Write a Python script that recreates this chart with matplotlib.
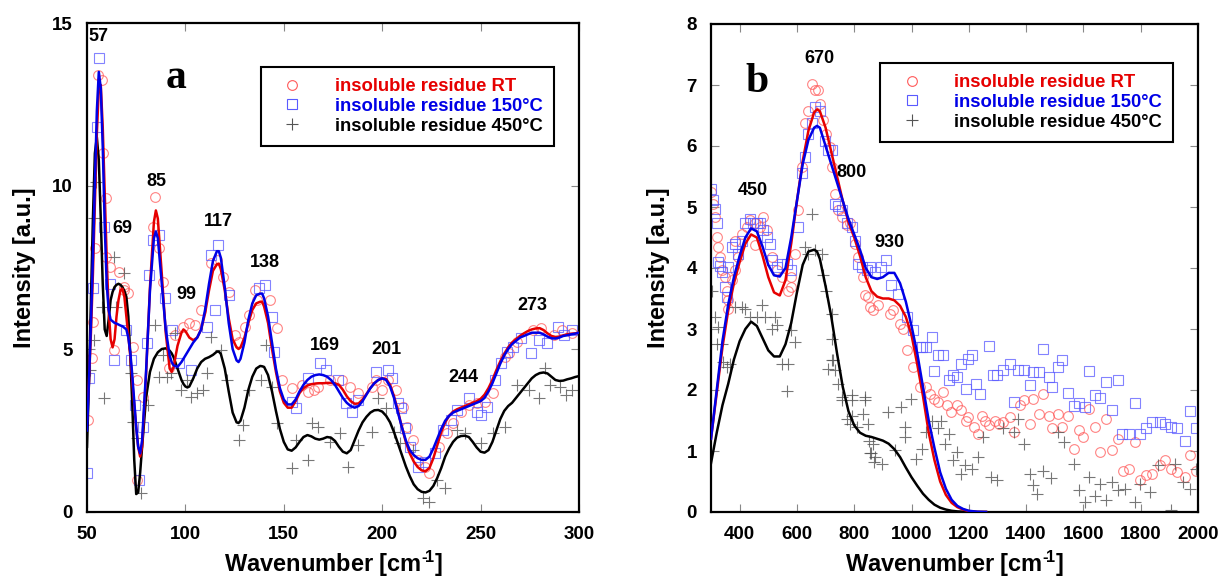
import matplotlib
matplotlib.use("Agg")
import matplotlib.pyplot as plt
from matplotlib.lines import Line2D

plt.rcParams['font.family'] = ['Liberation Sans', 'DejaVu Sans']
plt.rcParams['font.weight'] = 'bold'
plt.rcParams['mathtext.fontset'] = 'custom'
plt.rcParams['mathtext.rm'] = 'Liberation Sans:bold'
plt.rcParams['mathtext.bf'] = 'Liberation Sans:bold'
plt.rcParams['mathtext.it'] = 'Liberation Sans:bold'

# ---------------- Panel a: fitted curves ----------------
a_x = [50, 51, 52, 53, 54, 55, 56, 57, 58, 59, 60, 61, 62, 63, 64, 65, 66, 67, 68, 69, 70, 71, 72, 73, 74, 75,
       76, 77, 78, 80, 82, 84, 85, 86, 88, 90, 92, 93, 94, 96, 98, 99, 100, 101, 102, 104, 106, 108, 110, 112,
       114, 116, 117, 118, 120, 122, 124, 126, 127, 128, 130, 132, 134, 136, 138, 139, 140, 142, 144, 146,
       148, 150, 152, 154, 156, 158, 160, 162, 164, 166, 168, 170, 172, 174, 176, 178, 180, 182, 184, 186,
       188, 190, 192, 194, 196, 198, 200, 202, 204, 206, 208, 210, 212, 214, 216, 218, 220, 222, 224, 226,
       228, 230, 232, 234, 236, 238, 240, 242, 244, 246, 248, 250, 252, 254, 256, 258, 260, 262, 264, 266,
       268, 270, 272, 274, 276, 278, 280, 282, 284, 286, 288, 290, 292, 294, 296, 298, 300]
a_rt_fit = [2.8, 4.0, 5.5, 7.3, 9.4, 11.6, 13.0, 13.1, 11.8, 9.8, 7.8, 6.2, 5.3, 5.05, 5.3, 6.0, 6.5, 6.8, 6.85,
            6.6, 6.0, 5.4, 4.8, 4.0, 3.3, 2.6, 2.0, 1.7, 2.0, 4.2, 6.9, 8.9, 9.25, 9.0, 7.3, 5.5, 4.4, 4.3, 4.45,
            5.1, 5.5, 5.6, 5.55, 5.45, 5.35, 5.27, 5.35, 5.6, 6.1, 6.8, 7.4, 7.6, 7.62, 7.45, 6.8, 5.95, 5.3,
            5.05, 5.0, 5.05, 5.35, 5.8, 6.2, 6.4, 6.45, 6.45, 6.3, 5.8, 5.0, 4.3, 3.7, 3.35, 3.2, 3.2, 3.4, 3.65,
            3.8, 3.88, 3.92, 3.94, 3.95, 3.95, 3.96, 3.96, 3.95, 3.9, 3.75, 3.55, 3.4, 3.32, 3.33, 3.45, 3.62,
            3.8, 3.95, 4.05, 4.1, 4.08, 3.9, 3.55, 3.1, 2.6, 2.15, 1.8, 1.55, 1.38, 1.28, 1.25, 1.35, 1.65, 2.05,
            2.45, 2.75, 2.95, 3.08, 3.15, 3.2, 3.25, 3.3, 3.35, 3.4, 3.47, 3.6, 3.8, 4.05, 4.35, 4.62, 4.85, 5.05,
            5.2, 5.3, 5.4, 5.48, 5.55, 5.6, 5.63, 5.64, 5.58, 5.48, 5.4, 5.37, 5.38, 5.42, 5.45, 5.47, 5.48, 5.5]
a_150_fit = [2.5, 4.0, 5.8, 7.8, 10.0, 12.3, 13.5, 13.0, 11.2, 8.8, 7.0, 6.2, 5.9, 5.85, 5.8, 5.78, 5.75, 5.72,
             5.7, 5.65, 5.6, 5.35, 4.9, 4.2, 3.4, 2.6, 2.0, 1.8, 2.2, 4.3, 6.8, 8.4, 8.6, 8.4, 7.0, 5.6, 4.8, 4.6,
             4.5, 4.45, 4.6, 4.7, 4.8, 4.9, 5.0, 5.2, 5.35, 5.6, 6.2, 7.0, 7.7, 8.0, 8.0, 7.8, 6.9, 5.8, 5.0, 4.65,
             4.6, 4.7, 5.2, 5.9, 6.4, 6.65, 6.7, 6.7, 6.55, 6.0, 5.2, 4.4, 3.8, 3.45, 3.3, 3.3, 3.45, 3.7, 3.9,
             4.05, 4.15, 4.2, 4.22, 4.2, 4.15, 4.05, 3.9, 3.7, 3.5, 3.35, 3.25, 3.2, 3.25, 3.4, 3.6, 3.8, 3.95,
             4.05, 4.1, 4.05, 3.85, 3.5, 3.05, 2.6, 2.2, 1.9, 1.75, 1.65, 1.6, 1.6, 1.7, 1.95, 2.25, 2.55, 2.8,
             2.95, 3.05, 3.1, 3.15, 3.2, 3.25, 3.3, 3.35, 3.4, 3.5, 3.7, 3.95, 4.25, 4.55, 4.8, 5.0, 5.15, 5.25,
             5.35, 5.4, 5.45, 5.5, 5.5, 5.5, 5.45, 5.38, 5.33, 5.32, 5.35, 5.4, 5.42, 5.45, 5.47, 5.5]
a_450_fit = [2.0, 4.0, 6.5, 9.0, 11.0, 11.5, 10.8, 9.0, 7.0, 5.6, 5.4, 5.9, 6.5, 6.75, 6.9, 6.97, 7.0, 6.97,
             6.9, 6.78, 6.6, 6.0, 4.8, 3.3, 1.6, 0.55, 0.6, 1.2, 2.0, 3.5, 4.3, 4.7, 4.8, 4.9, 5.0, 5.02, 4.95,
             4.87, 4.75, 4.4, 4.05, 3.93, 3.85, 3.82, 3.85, 4.1, 4.4, 4.6, 4.7, 4.75, 4.82, 4.92, 4.92, 4.85, 4.4,
             3.7, 3.05, 2.75, 2.73, 2.8, 3.2, 3.75, 4.15, 4.4, 4.48, 4.47, 4.45, 4.2, 3.7, 3.1, 2.55, 2.15, 1.92,
             1.88, 1.98, 2.15, 2.3, 2.36, 2.32, 2.25, 2.22, 2.25, 2.3, 2.28, 2.18, 2.0, 1.85, 1.8, 1.9, 2.2, 2.5,
             2.75, 2.92, 3.05, 3.12, 3.13, 3.08, 2.95, 2.75, 2.45, 2.1, 1.75, 1.4, 1.1, 0.85, 0.7, 0.62, 0.6, 0.65,
             0.8, 1.05, 1.35, 1.7, 1.95, 2.15, 2.28, 2.33, 2.34, 2.3, 2.15, 1.98, 1.85, 1.82, 1.9, 2.15, 2.5, 2.85,
             3.1, 3.25, 3.35, 3.5, 3.65, 3.8, 3.95, 4.1, 4.2, 4.26, 4.28, 4.25, 4.15, 4.05, 4.02, 4.03, 4.07, 4.1,
             4.14, 4.17]

# ---------------- Panel a: measured points ----------------
a_rt_px = [55.4, 57.4, 58.1, 59.5, 54.0, 59.5, 61.5, 66.5, 68.6, 84.7, 83.7, 86.7, 113, 116, 119.1, 135.2,
           50.4, 52.4, 52.8, 63.5, 68.6, 70.6, 73.6, 75.6, 75.6, 78.7, 88.7, 91.8, 94.8, 98.8, 101.9, 104.9,
           108.0, 122.1, 125.1, 127.1, 130.1, 132.1, 136.2, 143.2, 146.3, 149.3, 154.3, 159.4, 162.4, 165.4,
           167.5, 173.5, 179.6, 183.6, 187.6, 194.7, 196.7, 199.7, 202.8, 206.8, 210.8, 212.8, 215.9, 218,
           222, 224, 229, 233, 236, 240, 244.2, 248.2, 252.2, 256.2, 262.3, 264.3, 268.4, 276.4, 280.5, 287.5,
           291.6, 296.6]
a_rt_py = [13.4, 13.25, 11.0, 9.62, 8.09, 7.83, 7.53, 7.37, 6.81, 9.67, 8.75, 8.09, 7.63, 7.73, 7.22, 6.81,
           2.82, 4.71, 5.84, 4.97, 6.91, 6.71, 5.07, 4.05, 0.98, 3.54, 7.07, 4.41, 5.43, 5.69, 5.79, 5.74,
           6.2, 6.76, 5.43, 5.22, 5.69, 6.04, 6.5, 6.5, 5.63, 4.05, 3.79, 3.9, 3.69, 3.74,
           3.84, 4.05, 4.05, 3.84, 3.64, 3.84, 4.05, 3.74, 4.05, 3.74, 3.23, 2.62, 2.21, 1.6,
           1.39, 1.19, 2.0, 2.41, 2.72, 3.08, 3.28, 3.33, 3.38, 3.64, 4.76, 4.87, 5.22, 5.58, 5.63, 5.43,
           5.58, 5.48]
a_150_px = [56.1, 55.0, 58.5, 81.7, 83.7, 86.7, 113.0, 116.6, 137.2, 140.2, 52.8, 61.5,
            50, 50.8, 63.5, 69.6, 72.6, 74.6, 78.7, 76.6, 80.7, 89.8, 93.2, 96.8, 102.9, 111.0, 115.0, 122.1,
            145.2, 144.2, 154.3, 156.3, 162.4, 168.5, 171.5, 177.5, 181.6, 184.6, 187.6, 196.7, 202.8, 204.8,
            207.8, 209.8, 211.8, 213.9, 218, 222, 227, 231, 235.1, 238.1, 244.2, 248.2, 250.2, 253.2, 257.2,
            260.3, 263.3, 266.3, 270.4, 275.4, 279.5, 283.5, 289.5, 292.6, 296.6]
a_150_py = [13.92, 11.82, 8.75, 7.27, 8.34, 8.5, 7.88, 8.19, 6.86, 6.96, 6.86, 7.0,
            1.19, 4.1, 4.66, 5.58, 4.66, 3.28, 2.62, 0.98, 5.17, 6.55, 5.58, 4.56, 4.36, 5.69, 6.2, 6.66,
            4.92, 5.99, 3.38, 3.18, 4.1, 4.56, 4.36, 4.05, 3.33, 3.08, 3.44, 4.3, 4.36, 4.1,
            3.33, 3.18, 2.57, 2.0, 1.39, 1.54, 1.8, 2.52, 2.82, 3.13, 3.49, 3.08, 2.98, 3.23, 4.05,
            4.56, 4.92, 5.07, 5.33, 4.87, 5.28, 5.17, 5.69, 5.43, 5.58]
a_450_px = [54.4, 53.4, 63.5, 69, 51.4, 53.4, 58.5, 57.5, 64.5, 72.6, 73.6, 75.6, 77.6, 81.1, 84.7, 86.7,
            88.7, 90.8, 92.8, 94.8, 97.8, 100.9, 102.9, 105.9, 108.9, 111, 113, 118, 121.1, 127.1, 129.2,
            132.2, 138.2, 141.2, 144.2, 146.3, 154.3, 156.3, 162.4, 164.4, 167.5, 173.5, 178.5, 182.6, 187.6,
            194.7, 197.7, 201.8, 205.8, 208.8, 215.9, 220.9, 224, 228, 232, 238, 242, 250.2, 256.2, 262.3,
            268.4, 274.4, 279.5, 282.5, 285.5, 290.5, 293.6, 296.6]
a_450_py = [10.13, 9.01, 7.83, 7.32, 4.36, 5.28, 3.49, 6.3, 6.3, 4.25, 2.77, 2.26, 0.57, 3.28, 5.74, 4.15,
            4.82, 4.15, 4.25, 5.48, 3.74, 4.05, 3.54, 3.64, 3.74, 4.25, 5.38, 4.97, 4.05, 2.21, 2.67,
            3.74, 4.05, 5.12, 3.84, 2.72, 1.34, 2.21, 1.6, 2.72, 2.62, 2.16, 2.41, 1.39, 2.06,
            2.46, 3.49, 3.18, 2.46, 2.11, 1.9, 0.42, 0.32, 0.98, 0.73, 2.52, 2.41, 2.11, 2.41, 2.62,
            3.9, 3.74, 3.49, 4.41, 3.9, 3.84, 3.59, 3.74]
a_peak_labels = ['57', '69', '85', '99', '117', '138', '169', '201', '244', '273']
a_peak_x = [56, 68, 85, 100.5, 116.6, 140.5, 171, 202, 241, 276.5]
a_peak_y = [14.6, 8.7, 10.15, 6.66, 8.9, 7.66, 5.12, 4.97, 4.12, 6.32]

# ---------------- Panel b: fitted curves ----------------
b_x = [300, 320, 340, 360, 380, 400, 420, 440, 460, 480, 500, 520, 540, 560, 580, 600, 620, 640, 660, 670,
       680, 700, 720, 740, 760, 780, 800, 820, 840, 860, 880, 900, 920, 940, 960, 980, 1000, 1020, 1040,
       1060, 1080, 1100, 1120, 1140, 1160, 1180, 1200, 1230, 1260]
b_rt_fit = [1.2, 1.95, 2.7, 3.3, 3.75, 4.1, 4.4, 4.55, 4.5, 4.2, 3.85, 3.6, 3.55, 3.8, 4.4, 5.1, 5.75, 6.25,
            6.55, 6.6, 6.57, 6.3, 5.9, 5.5, 5.1, 4.75, 4.5, 4.2, 3.85, 3.62, 3.53, 3.5, 3.5, 3.47, 3.38, 3.2,
            2.9, 2.42, 1.9, 1.3, 0.85, 0.5, 0.28, 0.15, 0.08, 0.04, 0.015, 0.0, 0.0]
b_150_fit = [1.2, 2.0, 2.8, 3.4, 3.85, 4.2, 4.5, 4.65, 4.6, 4.35, 4.05, 3.88, 3.86, 4.0, 4.5, 5.1, 5.7, 6.1,
             6.3, 6.33, 6.3, 6.0, 5.7, 5.4, 5.1, 4.8, 4.55, 4.3, 4.0, 3.85, 3.82, 3.85, 3.92, 3.92, 3.75, 3.45,
             3.05, 2.6, 2.05, 1.5, 1.05, 0.65, 0.38, 0.2, 0.1, 0.05, 0.02, 0.005, 0.0]
b_450_fit = [0.8, 1.3, 1.75, 2.1, 2.5, 2.8, 3.0, 3.12, 3.05, 2.85, 2.65, 2.55, 2.55, 2.75, 3.1, 3.6, 4.05,
             4.27, 4.3, 4.27, 4.15, 3.7, 3.2, 2.6, 2.05, 1.65, 1.42, 1.3, 1.25, 1.23, 1.2, 1.17, 1.12, 1.03,
             0.9, 0.73, 0.57, 0.43, 0.3, 0.2, 0.12, 0.07, 0.04, 0.02, 0.01, 0.005, 0.0, 0.0, 0.0]

# ---------------- Panel b: measured points ----------------
b_rt_px = [300, 308, 314, 320, 326, 331, 337, 349, 355, 360, 360, 372, 384, 395, 384, 407, 424, 436, 453, 471,
           483, 494, 453, 512, 529, 547, 570, 581, 581, 593, 605, 616, 628, 640, 651, 663, 674, 680, 692, 703,
           715, 721, 733, 744, 756, 773, 785, 802, 814, 831, 849, 866,
           836, 854, 883, 924, 936, 959, 971, 983, 1006, 1029,
           1051, 1064, 1077, 1091, 1111, 1124, 1138, 1158, 1171, 1191, 1198, 1218, 1231, 1245, 1258, 1271,
           1291, 1305, 1318, 1345, 1358, 1378, 1392, 1412, 1425, 1445, 1459, 1479, 1492, 1512, 1526, 1546,
           1566, 1586, 1599, 1619, 1639, 1659, 1679, 1699, 1719, 1739, 1759, 1779, 1799, 1819, 1839, 1866,
           1886, 1906, 1926, 1953, 1973, 1993]
b_rt_py = [5.25, 5.05, 4.84, 4.51, 4.34, 4.18, 3.96, 3.85, 3.63, 3.47, 3.33, 3.8, 3.96, 4.18, 4.45, 4.56,
           4.67, 4.78, 4.73, 4.67, 4.84, 4.62, 4.37, 4.18, 3.96, 3.85, 3.63, 3.69, 3.85, 4.23, 4.95, 5.66,
           6.37, 6.58, 7.02, 6.91, 6.91, 6.69, 6.42, 6.2, 5.98, 5.66, 5.22, 4.95, 4.84, 4.7, 4.73, 4.4, 4.18,
           3.85, 3.52, 3.31,
           3.55, 3.36, 3.39, 3.25, 3.31, 3.09, 3.0, 2.65, 2.38, 2.05,
           2.05, 1.94, 1.86, 1.8, 1.97, 1.75, 1.64, 1.75, 1.67, 1.5, 1.56, 1.39, 1.28, 1.58, 1.5, 1.42,
           1.5, 1.45, 1.48, 1.56, 1.31, 1.75, 1.83, 1.45, 1.86, 1.61, 1.94, 1.58, 1.37, 1.61, 1.39, 1.58,
           1.04, 1.34, 1.23, 1.69, 1.39, 0.98, 1.53, 1.01, 1.2, 0.68, 0.71, 1.15, 0.53, 0.6, 0.63, 0.77,
           0.85, 0.71, 0.66, 0.57, 0.93, 0.68]
b_150_px = [300, 308, 314, 320, 326, 331, 337, 349, 355, 360, 372, 384, 395, 407, 419, 436, 448, 460, 471, 483,
            494, 506, 512, 529, 547, 564, 581, 605, 616, 628, 640, 651, 663, 680, 698, 709, 721, 733, 744, 756,
            773, 791, 802, 814, 826, 843,
            854, 871, 895, 912, 930, 954, 983, 1006, 1029,
            1037, 1051, 1071, 1077, 1091, 1111, 1131, 1144, 1158, 1171, 1191, 1198, 1211, 1225, 1238, 1271,
            1285, 1298, 1318, 1345, 1358, 1372, 1392, 1412, 1425, 1445, 1459, 1479, 1492, 1512, 1526, 1546,
            1566, 1586, 1606, 1619, 1639, 1659, 1679, 1699, 1719, 1733, 1759, 1779, 1799, 1819, 1839, 1866,
            1886, 1906, 1926, 1953, 1973, 1993]
b_150_py = [5.3, 5.11, 4.97, 4.73, 4.1, 4.04, 3.93, 3.69, 3.52, 4.02, 4.34, 4.4, 4.23, 4.45, 4.73, 4.81,
            4.73, 4.73, 4.73, 4.62, 4.51, 4.4, 4.13, 4.02, 4.07, 4.07, 3.96, 4.67, 5.55, 5.82, 6.2, 6.37,
            6.64, 6.58, 6.09, 5.93, 5.93, 5.05, 5.02, 4.95, 4.73, 4.67, 4.45, 4.07, 4.02, 3.96,
            4.02, 3.94, 4.02, 4.13, 3.72, 3.58, 3.2, 2.98, 2.71,
            2.7, 2.7, 2.87, 2.31, 2.57, 2.57, 2.16, 2.24, 2.21, 2.43, 2.02, 2.51, 2.57, 2.1, 1.94, 2.72,
            2.24, 2.24, 2.32, 2.43, 1.8, 2.32, 2.32, 2.08, 2.3, 2.3, 2.68, 2.21, 2.05, 2.37, 2.49, 1.95,
            1.73, 1.79, 1.72, 2.31, 1.91, 1.87, 2.13, 1.67, 2.16, 1.28, 1.28, 1.78, 1.28, 1.37, 1.48, 1.48,
            1.45, 1.39, 1.37, 1.17, 1.66, 1.37]
b_450_px = [302, 314, 326, 320, 337, 343, 355, 366, 384, 407, 419, 477, 436, 460, 488, 523, 530, 512, 581, 593,
            570, 547, 564, 651, 628, 663, 686, 640, 692, 703, 721, 721, 727, 733, 756, 791, 837, 791, 773, 849,
            855, 872,
            710, 723, 743, 757, 791, 837, 831, 784, 811, 851, 864, 857, 870, 897, 917, 944, 964, 997, 977, 977,
            1017, 1037, 1051, 1071, 1091, 1104, 1118, 1131, 1144, 1158, 1171, 1185, 1211, 1231, 1251, 1278,
            1298, 1318, 1358, 1372, 1392, 1412, 1425, 1439, 1459, 1486, 1512, 1532, 1566, 1586, 1606, 1619,
            1639, 1659, 1679, 1699, 1719, 1746, 1779, 1799, 1833, 1859, 1906, 1919, 1946, 1973, 1993]
b_450_py = [3.63, 3.2, 3.03, 2.76, 2.76, 2.46, 2.38, 2.43, 3.36, 3.36, 3.33, 3.39, 3.2, 3.2, 3.2, 3.2, 3.06,
            3.0, 2.98, 2.79, 2.43, 2.43, 1.99, 4.89, 4.34, 4.29, 4.23, 4.23, 3.88, 3.63, 3.25, 2.84, 2.49,
            2.32, 1.83, 1.83, 1.83, 1.58, 1.53, 1.45, 0.96, 0.9,
            2.35, 2.49, 2.1, 1.89, 1.91, 1.89, 1.61, 1.45, 1.39, 1.17, 1.12, 0.96, 0.82, 0.79, 1.64, 1.01,
            1.72, 1.86, 1.39, 1.23, 0.87, 1.04, 1.31, 1.5, 1.37, 1.5, 1.12, 1.28, 0.85, 0.98, 0.63, 0.77,
            0.71, 0.9, 1.23, 0.57, 0.52, 1.37, 1.31, 1.53, 1.12, 0.63, 0.44, 0.3, 0.68, 0.55, 1.31, 1.15,
            0.79, 0.36, 0.16, 0.57, 0.27, 0.46, 0.19, 0.49, 0.36, 0.38, 0.16, 0.46, 0.33, 0.77, 0.03, 0.79,
            0.49, 0.38, 0.71]
b_peak_labels = ['450', '670', '800', '930']
b_peak_x = [446, 679, 790, 924]
b_peak_y = [5.27, 7.43, 5.57, 4.41]

series_labels = ['insoluble residue RT', 'insoluble residue 150°C', 'insoluble residue 450°C']

# ---------------- styling ----------------
RED = '#e60000'
BLUE = '#0000e6'
BLACK = '#000000'
RED_PT = '#ff5a5a'
BLUE_PT = '#5a5aff'
BLACK_PT = '#555555'

fig = plt.figure(figsize=(12.2, 5.84), dpi=100)
ax_a = fig.add_axes([87 / 1220, 1 - 512 / 584, (579 - 87) / 1220, (512 - 23) / 584])
ax_b = fig.add_axes([711 / 1220, 1 - 512 / 584, (1198 - 711) / 1220, (512 - 24) / 584])


def draw_points(ax, xs, ys, kind):
    if kind == 'rt':
        ax.plot(xs, ys, ls='none', marker='o', ms=7, mfc='none', mec=RED_PT, mew=0.8, alpha=0.75, zorder=2)
    elif kind == '150':
        ax.plot(xs, ys, ls='none', marker='s', ms=7, mfc='none', mec=BLUE_PT, mew=0.8, alpha=0.75, zorder=2)
    else:
        ax.plot(xs, ys, ls='none', marker='+', ms=8, mec=BLACK_PT, mew=0.8, alpha=0.8, zorder=2)


def style_axes(ax):
    for s in ax.spines.values():
        s.set_linewidth(1.6)
        s.set_color('black')
    ax.tick_params(direction='in', which='both', top=True, right=True, length=6, width=0.8,
                   color='#888888', labelsize=13.5)
    ax.tick_params(axis='y', pad=10)
    ax.tick_params(axis='x', pad=10)
    for lab in ax.get_xticklabels() + ax.get_yticklabels():
        lab.set_fontweight('bold')
    ax.set_ylabel('Intensity [a.u.]', fontsize=17, fontweight='bold', labelpad=12)
    ax.set_xlabel('Wavenumber [cm$^{\u2010\\!1}$]', fontsize=17, fontweight='bold', labelpad=4)


def add_legend(ax, anchor):
    handles = [Line2D([], [], ls='none', marker='o', ms=7, mfc='none', mec=RED_PT, mew=0.8),
               Line2D([], [], ls='none', marker='s', ms=7, mfc='none', mec=BLUE_PT, mew=0.8),
               Line2D([], [], ls='none', marker='+', ms=8, mec=BLACK_PT, mew=0.8)]
    leg = ax.legend(handles, series_labels, loc='upper left', bbox_to_anchor=anchor,
                    prop={'family': 'Liberation Sans', 'weight': 'bold', 'size': 13.3},
                    frameon=True, fancybox=False, edgecolor='black', framealpha=1,
                    handlelength=2.2, handletextpad=1.2, borderpad=0.6, labelspacing=0.15,
                    borderaxespad=0)
    leg.get_frame().set_linewidth(1.5)
    for t, c in zip(leg.get_texts(), [RED, BLUE, BLACK]):
        t.set_color(c)


# ---- panel a ----
draw_points(ax_a, a_rt_px, a_rt_py, 'rt')
draw_points(ax_a, a_150_px, a_150_py, '150')
draw_points(ax_a, a_450_px, a_450_py, '450')
ax_a.plot(a_x, a_450_fit, color=BLACK, lw=1.8, zorder=3)
ax_a.plot(a_x, a_rt_fit, color=RED, lw=1.8, zorder=4)
ax_a.plot(a_x, a_150_fit, color=BLUE, lw=1.8, zorder=5)
ax_a.set_xlim(50, 300)
ax_a.set_ylim(0, 15)
ax_a.set_xticks([50, 100, 150, 200, 250, 300])
ax_a.set_yticks([0, 5, 10, 15])
style_axes(ax_a)
for lab, x, y in zip(a_peak_labels, a_peak_x, a_peak_y):
    ax_a.text(x, y, lab, ha='center', va='center', fontsize=13, fontweight='bold', zorder=6)
ax_a.text(95.5, 13.3, 'a', ha='center', va='center', fontsize=30, fontweight='bold',
          family='Liberation Serif', zorder=6)
add_legend(ax_a, (0.353, 0.91))

# ---- panel b ----
draw_points(ax_b, b_rt_px, b_rt_py, 'rt')
draw_points(ax_b, b_150_px, b_150_py, '150')
draw_points(ax_b, b_450_px, b_450_py, '450')
ax_b.plot(b_x, b_450_fit, color=BLACK, lw=1.8, zorder=3)
ax_b.plot(b_x, b_rt_fit, color=RED, lw=1.8, zorder=4)
ax_b.plot(b_x, b_150_fit, color=BLUE, lw=1.8, zorder=5)
ax_b.set_xlim(300, 2000)
ax_b.set_ylim(0, 8)
ax_b.set_xticks([400, 600, 800, 1000, 1200, 1400, 1600, 1800, 2000])
ax_b.set_yticks([0, 1, 2, 3, 4, 5, 6, 7, 8])
style_axes(ax_b)
for lab, x, y in zip(b_peak_labels, b_peak_x, b_peak_y):
    ax_b.text(x, y, lab, ha='center', va='center', fontsize=13, fontweight='bold', zorder=6)
ax_b.text(462, 7.05, 'b', ha='center', va='center', fontsize=30, fontweight='bold',
          family='Liberation Serif', zorder=6)
add_legend(ax_b, (0.348, 0.92))

fig.savefig('out.png', dpi=100)
